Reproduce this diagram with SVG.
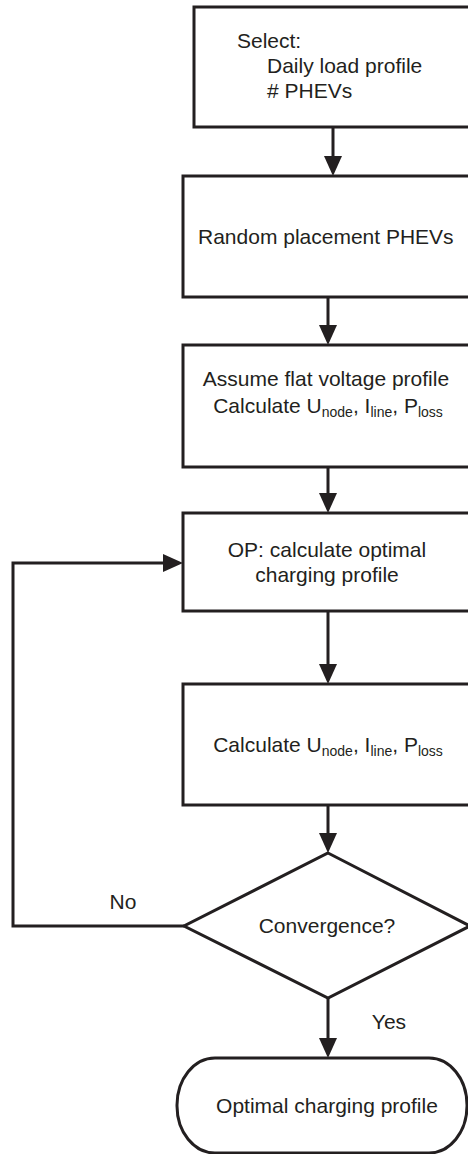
<svg xmlns="http://www.w3.org/2000/svg" width="468" height="1154" viewBox="0 0 468 1154">
<style>
.shape{fill:#ffffff;stroke:#231f20;stroke-width:3}
.conn{fill:none;stroke:#231f20;stroke-width:3}
text{font-family:"Liberation Sans",Arial,sans-serif;font-size:21px;fill:#231f20}
.c{text-anchor:middle}
.sub{font-size:14px}
</style>
<defs>
<marker id="arr" viewBox="0 0 20 18" refX="1" refY="9" markerWidth="20" markerHeight="18" markerUnits="userSpaceOnUse" orient="auto">
<path d="M0,0 L20,9 L0,18 z" fill="#231f20"/>
</marker>
</defs>
<rect width="468" height="1154" fill="#ffffff"/>
<g id="connectors">
<line class="conn" x1="333" y1="127" x2="333" y2="157" marker-end="url(#arr)"/>
<line class="conn" x1="328" y1="297" x2="328" y2="326" marker-end="url(#arr)"/>
<line class="conn" x1="328" y1="467" x2="328" y2="494" marker-end="url(#arr)"/>
<line class="conn" x1="328" y1="611" x2="328" y2="665" marker-end="url(#arr)"/>
<line class="conn" x1="328" y1="805" x2="328" y2="834" marker-end="url(#arr)"/>
<line class="conn" x1="328" y1="998" x2="328" y2="1039" marker-end="url(#arr)"/>
<polyline class="conn" points="184,926 13,926 13,563 164,563" marker-end="url(#arr)"/>
<text class="c" x="123" y="909">No</text>
<text class="c" x="389" y="1029">Yes</text>
</g>
<g id="n1">
<rect class="shape" x="194" y="7" width="280" height="120"/>
<text x="237" y="48">Select:</text>
<text x="267" y="73">Daily load profile</text>
<text x="267" y="98"># PHEVs</text>
</g>
<g id="n2">
<rect class="shape" x="183" y="176" width="291" height="121"/>
<text x="198" y="244">Random placement PHEVs</text>
</g>
<g id="n3">
<rect class="shape" x="183" y="345" width="291" height="122"/>
<text class="c" x="326" y="386">Assume flat voltage profile</text>
<text class="c" x="328" y="413">Calculate U<tspan class="sub" dy="4">node</tspan><tspan dy="-4">, I</tspan><tspan class="sub" dy="4">line</tspan><tspan dy="-4">, P</tspan><tspan class="sub" dy="4">loss</tspan></text>
</g>
<g id="n4">
<rect class="shape" x="183" y="513" width="291" height="98"/>
<text class="c" x="327" y="557">OP: calculate optimal</text>
<text class="c" x="327" y="582">charging profile</text>
</g>
<g id="n5">
<rect class="shape" x="183" y="684" width="291" height="121"/>
<text class="c" x="328" y="752">Calculate U<tspan class="sub" dy="4">node</tspan><tspan dy="-4">, I</tspan><tspan class="sub" dy="4">line</tspan><tspan dy="-4">, P</tspan><tspan class="sub" dy="4">loss</tspan></text>
</g>
<g id="n6">
<polygon class="shape" points="328,853 470,926 328,998 184,926"/>
<text class="c" x="327" y="933">Convergence?</text>
</g>
<g id="n7">
<rect class="shape" x="177" y="1058" width="290" height="95" rx="38" ry="47"/>
<text class="c" x="327" y="1113">Optimal charging profile</text>
</g>
</svg>
